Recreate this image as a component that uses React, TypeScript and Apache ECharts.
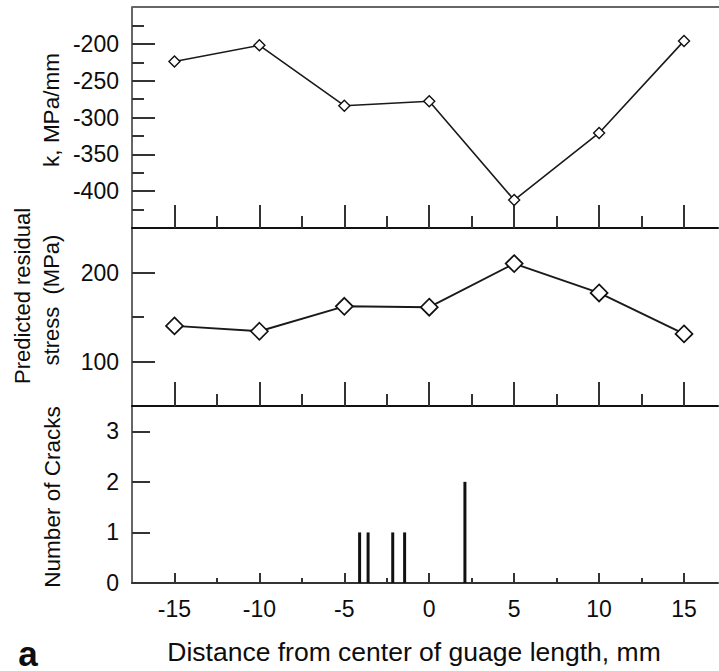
import React, { useEffect, useRef } from "react";
import * as echarts from "echarts";

// ---- data ----
const xPositions = [-15, -10, -5, 0, 5, 10, 15];
const kValues = [-224, -202, -284, -278, -412, -321, -196];
const stressValues = [140, 134, 162, 161, 210, 177, 131];
const crackPositions = [-4.1, -3.6, -2.15, -1.45, 2.1];
const crackCounts = [1, 1, 1, 1, 2];

// ---- tick definitions ----
const xMajorTicks = [-15, -10, -5, 0, 5, 10, 15];
const xMinorTicks = [-12.5, -7.5, -2.5, 2.5, 7.5, 12.5];
const kMajorTicks = [-400, -350, -300, -250, -200];
const kMinorTicks = [-425, -375, -325, -275, -225, -175];
const stressMajorTicks = [100, 200];
const stressMinorTicks = [150];
const crackTicks = [0, 1, 2, 3];

const FONT = "'Liberation Sans', Arial, Helvetica, sans-serif";
const TEXT = "#0d0d0d";
const AXIS_GRAY = "#666";
const TICK = "#333";

const X_MIN = -17.5;
const X_MAX = 17;

function mainX(gridIndex: number, majorLen: number, showLabels: boolean, lineColor: string) {
  return {
    type: "value",
    gridIndex,
    position: "bottom",
    min: X_MIN,
    max: X_MAX,
    axisLine: { show: true, onZero: false, lineStyle: { color: lineColor, width: 2 } },
    axisTick: {
      show: true,
      inside: true,
      length: majorLen,
      customValues: xMajorTicks,
      lineStyle: { color: TICK, width: 2 },
    },
    axisLabel: {
      show: showLabels,
      customValues: xMajorTicks,
      margin: 14,
      fontSize: 23,
      fontFamily: FONT,
      color: TEXT,
    },
    splitLine: { show: false },
  };
}

function minorX(gridIndex: number, minorLen: number) {
  return {
    type: "value",
    gridIndex,
    position: "bottom",
    min: X_MIN,
    max: X_MAX,
    axisLine: { show: false, onZero: false },
    axisTick: {
      show: true,
      inside: true,
      length: minorLen,
      customValues: xMinorTicks,
      lineStyle: { color: TICK, width: 2 },
    },
    axisLabel: { show: false },
    splitLine: { show: false },
  };
}

function mainY(gridIndex: number, min: number, max: number, labels: number[], ticks: number[], len: number) {
  return {
    type: "value",
    gridIndex,
    position: "left",
    min,
    max,
    axisLine: { show: true, onZero: false, lineStyle: { color: AXIS_GRAY, width: 2 } },
    axisTick: {
      show: true,
      inside: true,
      length: len,
      customValues: ticks,
      lineStyle: { color: TICK, width: 2 },
    },
    axisLabel: {
      show: true,
      customValues: labels,
      margin: 13,
      fontSize: 23,
      fontFamily: FONT,
      color: TEXT,
    },
    splitLine: { show: false },
  };
}

function minorY(gridIndex: number, min: number, max: number, ticks: number[], len: number) {
  return {
    type: "value",
    gridIndex,
    position: "left",
    min,
    max,
    axisLine: { show: false, onZero: false },
    axisTick: {
      show: true,
      inside: true,
      length: len,
      customValues: ticks,
      lineStyle: { color: TICK, width: 2 },
    },
    axisLabel: { show: false },
    splitLine: { show: false },
  };
}

export default function App() {
  const ref = useRef<HTMLDivElement | null>(null);

  useEffect(() => {
    if (!ref.current) return;
    const chart = echarts.init(ref.current, null, { renderer: "svg" });

    const kData = xPositions.map((x, i) => [x, kValues[i]]);
    const stressData = xPositions.map((x, i) => [x, stressValues[i]]);
    const crackData = crackPositions.map((x, i) => [x, crackCounts[i]]);

    const option: any = {
      animation: false,
      backgroundColor: "#fff",
      grid: [
        { left: 132, top: 7, width: 586, height: 221, containLabel: false, outerBoundsMode: "none" },
        { left: 132, top: 228, width: 586, height: 178, containLabel: false, outerBoundsMode: "none" },
        { left: 132, top: 406, width: 586, height: 177, containLabel: false, outerBoundsMode: "none" },
      ],
      xAxis: [
        mainX(0, 23, false, "#111"),
        minorX(0, 12),
        mainX(1, 24, false, "#111"),
        minorX(1, 12),
        mainX(2, 10, true, "#333"),
        minorX(2, 5),
      ],
      yAxis: [
        mainY(0, -450, -150, kMajorTicks, kMajorTicks, 23),
        minorY(0, -450, -150, kMinorTicks, 12),
        mainY(1, 50, 250, stressMajorTicks, stressMajorTicks, 23),
        minorY(1, 50, 250, stressMinorTicks, 12),
        mainY(2, 0, 3.5, crackTicks, crackTicks, 18),
      ],
      series: [
        {
          type: "line",
          xAxisIndex: 0,
          yAxisIndex: 0,
          data: kData,
          symbol: "diamond",
          symbolSize: 11,
          itemStyle: { color: "#fff", borderColor: "#111", borderWidth: 1.4 },
          lineStyle: { color: "#1a1a1a", width: 1.6 },
          z: 3,
        },
        {
          type: "line",
          xAxisIndex: 2,
          yAxisIndex: 2,
          data: stressData,
          symbol: "diamond",
          symbolSize: 17,
          itemStyle: { color: "#fff", borderColor: "#111", borderWidth: 1.7 },
          lineStyle: { color: "#1a1a1a", width: 1.9 },
          z: 3,
        },
        {
          type: "bar",
          xAxisIndex: 4,
          yAxisIndex: 4,
          data: crackData,
          barWidth: 3,
          itemStyle: { color: "#111" },
          z: 3,
        },
      ],
      graphic: [
        {
          type: "line",
          shape: { x1: 132, y1: 7, x2: 719, y2: 7 },
          style: { stroke: AXIS_GRAY, lineWidth: 2 },
        },
        {
          type: "text",
          x: 51,
          y: 110,
          rotation: Math.PI / 2,
          style: {
            text: "k, MPa/mm",
            fontSize: 22.5,
            fontFamily: FONT,
            fill: TEXT,
            textAlign: "center",
            textVerticalAlign: "middle",
          },
        },
        {
          type: "text",
          x: 22,
          y: 296,
          rotation: Math.PI / 2,
          style: {
            text: "Predicted residual",
            fontSize: 22,
            fontFamily: FONT,
            fill: TEXT,
            textAlign: "center",
            textVerticalAlign: "middle",
          },
        },
        {
          type: "text",
          x: 51,
          y: 300,
          rotation: Math.PI / 2,
          style: {
            text: "stress  (MPa)",
            fontSize: 22,
            fontFamily: FONT,
            fill: TEXT,
            textAlign: "center",
            textVerticalAlign: "middle",
          },
        },
        {
          type: "text",
          x: 52,
          y: 497,
          rotation: Math.PI / 2,
          style: {
            text: "Number of Cracks",
            fontSize: 22.5,
            fontFamily: FONT,
            fill: TEXT,
            textAlign: "center",
            textVerticalAlign: "middle",
          },
        },
        {
          type: "text",
          x: 414,
          y: 652,
          style: {
            text: "Distance from center of guage length, mm",
            fontSize: 26.5,
            fontFamily: FONT,
            fill: TEXT,
            textAlign: "center",
            textVerticalAlign: "middle",
          },
        },
        {
          type: "text",
          x: 28,
          y: 653,
          style: {
            text: "a",
            fontSize: 35,
            fontWeight: "bold",
            fontFamily: FONT,
            fill: TEXT,
            textAlign: "center",
            textVerticalAlign: "middle",
          },
        },
      ],
    };

    chart.setOption(option);
    return () => {
      chart.dispose();
    };
  }, []);

  return (
    <div
      ref={ref}
      style={{ position: "fixed", left: 0, top: 0, width: 719, height: 671, background: "#fff" }}
    />
  );
}
